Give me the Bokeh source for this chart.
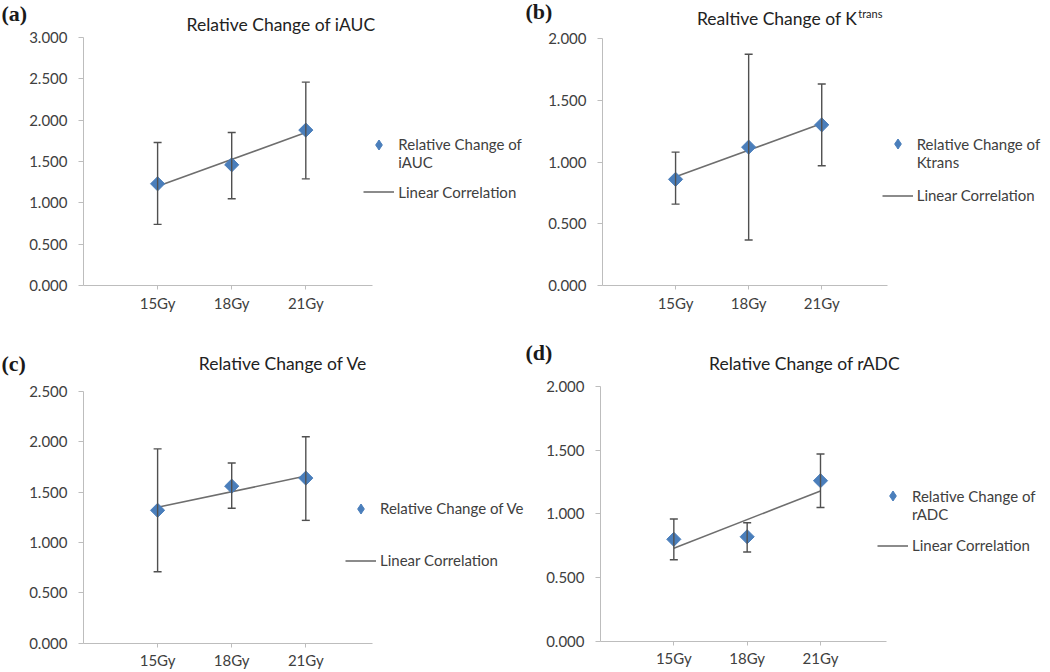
import numpy as np
from bokeh.plotting import figure
from bokeh.models import (Range1d, FixedTicker, NumeralTickFormatter, Whisker, TeeHead,
                          ColumnDataSource, Legend, LegendItem, Label)
from bokeh.layouts import column, row
from bokeh.embed import file_html
from bokeh.resources import INLINE

# ---------------- data ----------------
categories = ["15Gy", "18Gy", "21Gy"]

iauc_mean = [1.23, 1.46, 1.88]
iauc_upper = [1.73, 1.85, 2.46]
iauc_lower = [0.74, 1.05, 1.29]
iauc_trend = [1.20, 1.85]

ktrans_mean = [0.86, 1.12, 1.30]
ktrans_upper = [1.08, 1.87, 1.63]
ktrans_lower = [0.66, 0.37, 0.97]
ktrans_trend = [0.88, 1.31]

ve_mean = [1.32, 1.56, 1.64]
ve_upper = [1.93, 1.79, 2.05]
ve_lower = [0.71, 1.34, 1.22]
ve_trend = [1.35, 1.66]

radc_mean = [0.80, 0.82, 1.26]
radc_upper = [0.96, 0.93, 1.47]
radc_lower = [0.64, 0.70, 1.05]
radc_trend = [0.73, 1.18]

y_max = {"a": 3.0, "b": 2.0, "c": 2.5, "d": 2.0}
x_max = 3.9
panel_labels = {"a": "(a)", "b": "(b)", "c": "(c)", "d": "(d)"}
titles = {"a": "Relative Change of iAUC", "b": "Realtive Change of K",
          "c": "Relative Change of Ve", "d": "Relative Change of rADC"}
title_sup_b = "trans"
# a leading blank line keeps the legend marker level with the first text line
legend_series = {"a": "\nRelative Change of\niAUC", "b": "\nRelative Change of\nKtrans",
                 "c": "Relative Change of Ve", "d": "\nRelative Change of\nrADC"}
legend_trend = "Linear Correlation"

# ---------------- styling ----------------
FONT = "Lato"
BLUE = "#4a7ebb"
ERR = "#505050"
TREND = "#6e6e6e"
AXIS = "#bdbdbd"
TICKTXT = "#404040"
TITLE = "#222222"
LINE_H = 1.3
GLYPH_H = 25
LEG_FS = 15

# layout config (page pixels): figure box, axis box, text anchors
cfg = {
    "a": dict(ox=0, oy=0, w=524, h=328, fl=83, fr=372, ft=37, fb=285,
              title=(280.5, 24), plabel=(1, 13),
              leg=(363.3, 141.8, 191.7)),
    "b": dict(ox=524, oy=0, w=526, h=328, fl=602, fr=887, ft=37.7, fb=285.3,
              title=(856.7, 18), plabel=(525, 11),
              leg=(881.7, 141.2, 195.3)),
    "c": dict(ox=0, oy=328, w=524, h=342, fl=83, fr=372, ft=391, fb=642.7,
              title=(282.5, 363.3), plabel=(1, 363),
              leg=(345, 508.3, 560)),
    "d": dict(ox=524, oy=328, w=526, h=342, fl=600, fr=886, ft=386, fb=640.7,
              title=(804, 363), plabel=(525, 352),
              leg=(877, 493.5, 545)),
}


def make_panel(key, mean, upper, lower, trend):
    c = cfg[key]
    ux = (c["fr"] - c["fl"]) / x_max
    uy = (c["fb"] - c["ft"]) / y_max[key]
    xr = Range1d(-(c["fl"] - c["ox"]) / ux, x_max + (c["ox"] + c["w"] - c["fr"]) / ux)
    yr = Range1d(-(c["oy"] + c["h"] - c["fb"]) / uy, y_max[key] + (c["ft"] - c["oy"]) / uy)
    xs = np.arange(1, len(categories) + 1)
    p = figure(width=c["w"], height=c["h"], x_range=xr, y_range=yr,
               output_backend="svg", toolbar_location=None,
               min_border_left=0, min_border_right=0, min_border_top=0, min_border_bottom=0)
    p.outline_line_color = None
    p.xgrid.visible = False
    p.ygrid.visible = False

    # axes crossing at the origin, limited to the plotted area
    p.xaxis.fixed_location = 0
    p.yaxis.fixed_location = 0
    p.xaxis.bounds = (0, x_max)
    p.yaxis.bounds = (0, y_max[key])
    p.xaxis.ticker = FixedTicker(ticks=list(xs))
    p.xaxis.major_label_overrides = {int(x): cat for x, cat in zip(xs, categories)}
    p.yaxis.ticker = FixedTicker(ticks=list(np.arange(0, y_max[key] + 0.001, 0.5)))
    p.yaxis.formatter = NumeralTickFormatter(format="0.000")
    for ax in (p.xaxis[0], p.yaxis[0]):
        ax.axis_line_color = AXIS
        ax.major_tick_line_color = AXIS
        ax.minor_tick_line_color = None
        ax.major_tick_in = 0
        ax.major_label_text_font = FONT
        ax.major_label_text_font_size = "15px"
        ax.major_label_text_color = TICKTXT
    p.xaxis.major_tick_out = 4
    p.xaxis.major_label_standoff = 4
    p.yaxis.major_tick_out = 5
    p.yaxis.major_label_standoff = 11

    src = ColumnDataSource(dict(x=xs, y=mean, upper=upper, lower=lower))
    tr = p.line(x=[xs[0], xs[-1]], y=trend, line_color=TREND, line_width=1.6)
    # legend symbol renderer (legend glyphs are drawn unrotated, so the diamond marker
    # is used for the key; it sits fully beneath the rotated-square markers)
    sym = p.scatter(x="x", y="y", source=src, marker="diamond", size=10,
                    fill_color=BLUE, line_color=BLUE)
    p.scatter(x="x", y="y", source=src, marker="square", size=10, angle=np.pi / 4,
              fill_color=BLUE, line_color=BLUE)
    wh = Whisker(base="x", upper="upper", lower="lower", source=src,
                 line_color=ERR, line_width=1.4, level="annotation",
                 upper_head=TeeHead(size=8, line_color=ERR, line_width=1.4),
                 lower_head=TeeHead(size=8, line_color=ERR, line_width=1.4))
    p.add_layout(wh)

    def sx(X):
        return X - c["ox"]

    def sy(Y):
        return c["oy"] + c["h"] - Y

    # legend: placed from the marker-line centre and the trend-item centre
    lx, y_first, y_trend = c["leg"]
    lh = LEG_FS * LINE_H
    n_lines = legend_series[key].count("\n") + 1
    h1 = max(GLYPH_H, n_lines * lh)
    item1_bottom = y_first + h1 / 2
    item2_top = y_trend - GLYPH_H / 2
    legend = Legend(items=[LegendItem(label=legend_series[key], renderers=[sym]),
                           LegendItem(label=legend_trend, renderers=[tr])],
                    location=(sx(lx), sy(y_trend + GLYPH_H / 2)),
                    background_fill_alpha=0, border_line_alpha=0,
                    padding=0, margin=0, spacing=int(round(item2_top - item1_bottom)),
                    glyph_width=31, glyph_height=GLYPH_H, label_height=17,
                    label_standoff=4, label_text_font=FONT,
                    label_text_line_height=LINE_H,
                    label_text_font_size=f"{LEG_FS}px", label_text_color=TICKTXT)
    p.add_layout(legend)

    # title
    tx, ty = c["title"]
    if key == "b":
        p.add_layout(Label(x=sx(tx), y=sy(ty), x_units="screen", y_units="screen",
                           text=titles[key], text_align="right", text_baseline="middle",
                           text_font=FONT, text_font_size="17.5px", text_color=TITLE))
        p.add_layout(Label(x=sx(tx) + 1, y=sy(ty) + 5, x_units="screen", y_units="screen",
                           text=title_sup_b, text_align="left", text_baseline="middle",
                           text_font=FONT, text_font_size="11px", text_color=TITLE))
    else:
        p.add_layout(Label(x=sx(tx), y=sy(ty), x_units="screen", y_units="screen",
                           text=titles[key], text_align="center", text_baseline="middle",
                           text_font=FONT, text_font_size="17.5px", text_color=TITLE))
    # panel label
    px, py = c["plabel"]
    p.add_layout(Label(x=sx(px), y=sy(py), x_units="screen", y_units="screen",
                       text=panel_labels[key], text_align="left", text_baseline="middle",
                       text_font="Liberation Serif", text_font_style="bold",
                       text_font_size="22px", text_color="#1a1a1a"))
    return p


pa = make_panel("a", iauc_mean, iauc_upper, iauc_lower, iauc_trend)
pb = make_panel("b", ktrans_mean, ktrans_upper, ktrans_lower, ktrans_trend)
pc = make_panel("c", ve_mean, ve_upper, ve_lower, ve_trend)
pd = make_panel("d", radc_mean, radc_upper, radc_lower, radc_trend)

layout = column(row(pa, pb, spacing=0), row(pc, pd, spacing=0), spacing=0)

open("out.html", "w").write(file_html(layout, INLINE))
